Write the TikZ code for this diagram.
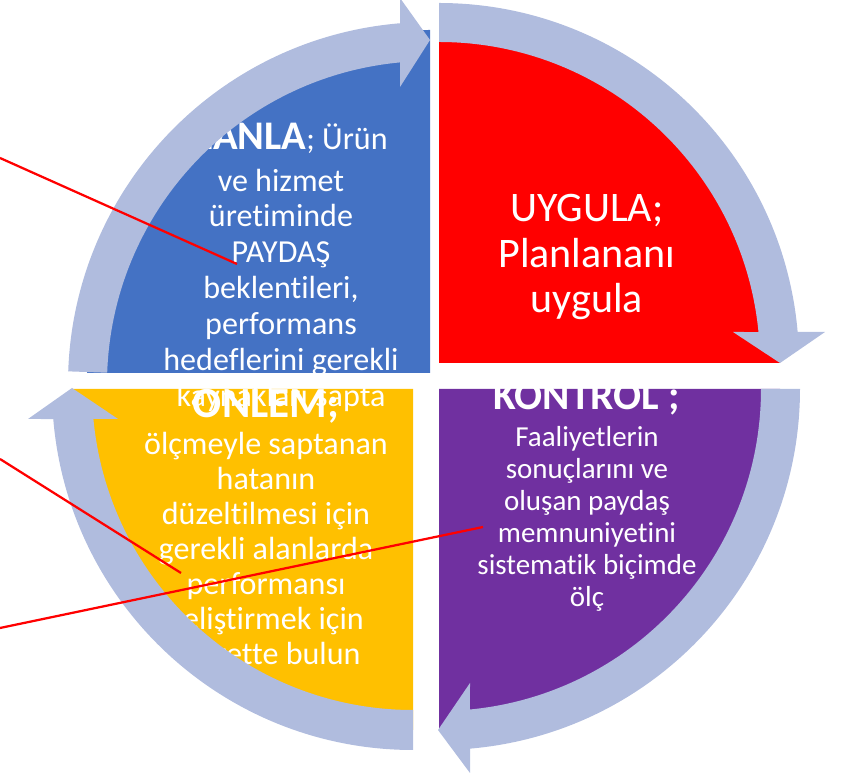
\documentclass[tikz,border=0pt]{standalone}
\usepackage{fontspec}
\setmainfont{Carlito}[RawFeature={-liga;-clig;-calt;-dlig}]
\usetikzlibrary{calc}
\definecolor{planblue}{RGB}{68,114,196}
\definecolor{dored}{RGB}{255,0,0}
\definecolor{actyellow}{RGB}{255,192,0}
\definecolor{checkpurple}{RGB}{112,48,160}
\definecolor{bandgray}{RGB}{176,188,222}
\begin{document}
\begin{tikzpicture}[x=0.025cm,y=0.025cm]
    % Define styles
    \tikzset{
        band/.style={fill=bandgray},
        caption/.style={text=white, align=center, inner sep=0pt, anchor=base},
        pointer/.style={draw=dored, line width=1.6pt},
    }
    \useasboundingbox (0,0) rectangle (843,775);

    % Quadrant corners
    \coordinate (cb) at (430,402);
    \coordinate (cr) at (439,412);
    \coordinate (cp) at (439,386);
    \coordinate (cy) at (413,386);

    % Quadrants
    \fill[planblue] (cb) -- ++(0,343) arc[start angle=90, end angle=180, radius=343] -- cycle;
    \fill[dored] (cr) -- ++(0,341) arc[start angle=90, end angle=0, radius=341] -- cycle;
    \fill[checkpurple] (cp) -- ++(341,0) arc[start angle=0, end angle=-90, radius=341] -- cycle;
    \fill[actyellow] (cy) -- ++(0,-341) arc[start angle=270, end angle=180, radius=341] -- cycle;

    % Texts (placed at the baseline of their last line)
    \node[caption, font=\fontsize{22.8}{25.6}\selectfont] (planla) at (281,368)
        {{\bfseries\fontsize{28.9}{28.9}\selectfont PLANLA}; Ürün\\[4pt] ve hizmet\\ üretiminde\\ PAYDAŞ\\
         beklentileri,\\ performans\\ hedeflerini gerekli\\ kaynakları sapta};
    \node[caption, font=\fontsize{29.9}{32.7}\selectfont] (uygula) at (587,462)
        {UYGULA;\\ Planlananı\\ uygula};
    \node[caption, font=\fontsize{22.8}{24.9}\selectfont] (onlem) at (266,110)
        {{\bfseries\fontsize{30.6}{30.6}\selectfont ÖNLEM;}\\[1.4pt] ölçmeyle saptanan\\ hatanın\\
         düzeltilmesi için\\ gerekli alanlarda\\ performansı\\ geliştirmek için\\ gayrette bulun};
    \node[caption, font=\fontsize{20.6}{22.8}\selectfont] (kontrol) at (587,168)
        {{\bfseries\fontsize{29.5}{29.5}\selectfont KONTROL ;}\\[3.5pt] Faaliyetlerin\\ sonuçlarını ve\\
         oluşan paydaş\\ memnuniyetini\\ sistematik biçimde\\ ölç};

    % Cycle arrows
    \coordinate (bc) at (430,391);
    \fill[band] ($(bc)+(178:362)$) arc[start angle=178, end angle=94.75, radius=362]
        -- (400,777) -- (430,735) -- (400,688)
        -- ($(bc)+(95.33:323)$) arc[start angle=95.33, end angle=178, radius=323] -- cycle;
    \fill[band] ($(cr)+(90:360)$) arc[start angle=90, end angle=4.94, radius=360]
        -- (825,443) -- (780,412) -- (733,443)
        -- ($(cr)+(5.54:321)$) arc[start angle=5.54, end angle=90, radius=321] -- cycle;
    \fill[band] ($(cp)+(0:361)$) arc[start angle=0, end angle=-85.07, radius=361]
        -- (470,2) -- (438,45) -- (470,92)
        -- ($(cp)+(-84.48:322)$) arc[start angle=-84.48, end angle=0, radius=322] -- cycle;
    \fill[band] ($(cy)+(270:361)$) arc[start angle=270, end angle=184.77, radius=361]
        -- (28,356) -- (72,387) -- (118,356)
        -- ($(cy)+(185.36:321)$) arc[start angle=185.36, end angle=270, radius=321] -- cycle;

    % Red pointers
    \coordinate (a1) at (0,617);
    \coordinate (b1) at (237,511);
    \coordinate (a2) at (0,316);
    \coordinate (b2) at (181,202);
    \coordinate (a3) at (0,147);
    \coordinate (b3) at (483,248);
    \draw[pointer] (a1) -- (b1);
    \draw[pointer] (a2) -- (b2);
    \draw[pointer] (a3) -- (b3);
\end{tikzpicture}
\end{document}
